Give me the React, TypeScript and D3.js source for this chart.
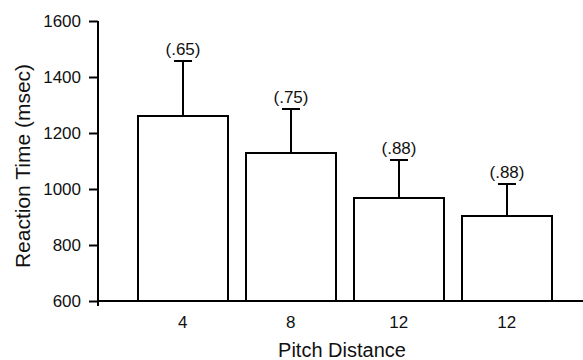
import React, { useRef, useEffect } from 'react';
import * as d3 from 'd3';

// Pitch distance conditions (two conditions share the label "12")
const categories = ['4', '8', '12', '12'];
// Mean reaction time in msec
const meanRT = [1261, 1129, 969, 903];
// Error bar size (upper only) in msec
const errorRT = [196, 157, 136, 114];
// Proportion correct shown above each error bar
const accuracy = ['(.65)', '(.75)', '(.88)', '(.88)'];
const yTicks = [600, 800, 1000, 1200, 1400, 1600];

const width = 583;
const height = 360;
const font = 'Arial, "Liberation Sans", sans-serif';

const App = () => {
  const svgRef = useRef<SVGSVGElement>(null);

  useEffect(() => {
    const svg = d3.select(svgRef.current);
    svg.selectAll('*').remove();

    const axisX = 98;
    const y = d3.scaleLinear().domain([600, 1600]).range([301, 21]);
    const x = d3.scaleBand<number>()
      .domain(categories.map((_, i) => i))
      .range([128.7, 560.7])
      .paddingInner(0.167)
      .paddingOuter(0.0835);

    // y axis
    const yAxis = svg.append('g')
      .attr('transform', `translate(${axisX},0)`)
      .call(d3.axisLeft(y).tickValues(yTicks).tickSize(9).tickPadding(8).tickSizeOuter(0).tickFormat(d3.format('d')));
    yAxis.select('.domain').remove();
    yAxis.selectAll('line').attr('stroke', '#000').attr('stroke-width', 2);
    yAxis.selectAll('text')
      .attr('fill', '#111')
      .style('font-family', font)
      .style('font-size', '17px');
    svg.append('line')
      .attr('x1', axisX).attr('x2', axisX)
      .attr('y1', y(1600)).attr('y2', y(600) + 5)
      .attr('stroke', '#000').attr('stroke-width', 2);

    // x axis
    svg.append('line')
      .attr('x1', axisX - 1).attr('x2', width)
      .attr('y1', y(600)).attr('y2', y(600))
      .attr('stroke', '#000').attr('stroke-width', 2);
    const xAxis = svg.append('g')
      .attr('transform', `translate(0,${y(600)})`)
      .call(d3.axisBottom(x).tickSize(0).tickPadding(15).tickFormat(i => categories[i as number]));
    xAxis.select('.domain').remove();
    xAxis.selectAll('text')
      .attr('fill', '#111')
      .style('font-family', font)
      .style('font-size', '17px');

    // bars
    const g = svg.append('g');
    const bars = g.selectAll('.bar')
      .data(meanRT)
      .enter()
      .append('g')
      .attr('class', 'bar');

    bars.append('rect')
      .attr('x', (d, i) => Math.round(x(i)!))
      .attr('y', d => Math.round(y(d)))
      .attr('width', Math.round(x.bandwidth()))
      .attr('height', d => y(600) - Math.round(y(d)))
      .attr('fill', '#fff')
      .attr('stroke', '#000')
      .attr('stroke-width', 2);

    // error bars with accuracy labels
    bars.each(function (d, i) {
      const b = d3.select(this);
      const cx = Math.round(x(i)! + x.bandwidth() / 2);
      const top = Math.round(y(d + errorRT[i]));
      b.append('line')
        .attr('x1', cx).attr('x2', cx)
        .attr('y1', Math.round(y(d))).attr('y2', top)
        .attr('stroke', '#000').attr('stroke-width', 2);
      b.append('line')
        .attr('x1', cx - 9).attr('x2', cx + 9)
        .attr('y1', top).attr('y2', top)
        .attr('stroke', '#000').attr('stroke-width', 2);
      b.append('text')
        .attr('x', cx)
        .attr('y', top - 6)
        .attr('text-anchor', 'middle')
        .attr('fill', '#111')
        .style('font-family', font)
        .style('font-size', '17px')
        .text(accuracy[i]);
    });

    // axis titles
    svg.append('text')
      .attr('x', 342)
      .attr('y', 357)
      .attr('text-anchor', 'middle')
      .attr('fill', '#111')
      .style('font-family', font)
      .style('font-size', '20px')
      .text('Pitch Distance');

    svg.append('text')
      .attr('transform', `translate(30,166) rotate(-90)`)
      .attr('text-anchor', 'middle')
      .attr('fill', '#111')
      .style('font-family', font)
      .style('font-size', '21px')
      .text('Reaction Time (msec)');
  }, []);

  return (
    <svg
      ref={svgRef}
      width={width}
      height={height}
      style={{ position: 'absolute', left: 0, top: 0, background: '#fff' }}
    />
  );
};

export default App;
